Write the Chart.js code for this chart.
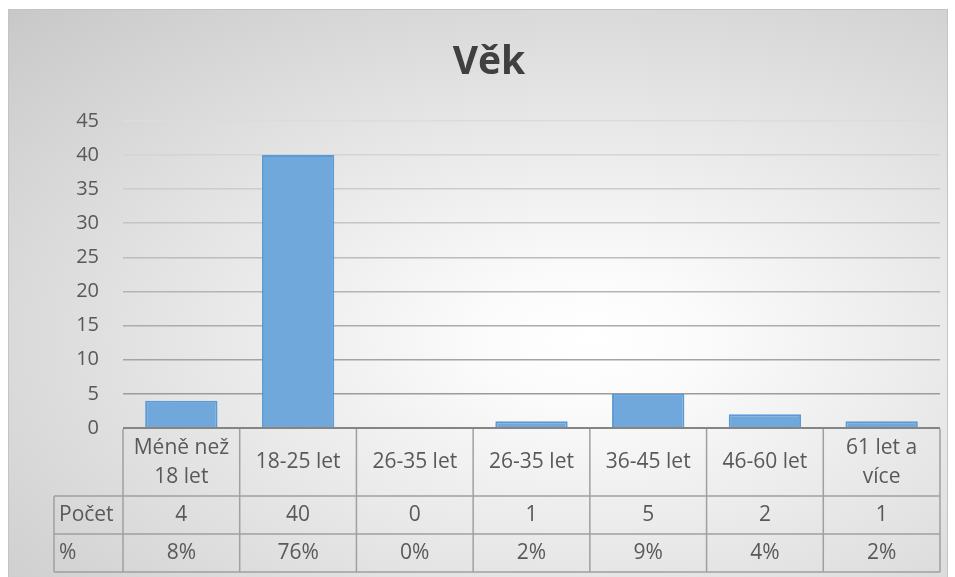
<!DOCTYPE html>
<html>
<head>
<meta charset="utf-8">
<script src="https://cdn.jsdelivr.net/npm/chart.js@4.4.1/dist/chart.umd.min.js"></script>
<style>
  html, body { margin: 0; padding: 0; background: #fff; }
  #frame {
    position: absolute; left: 8px; top: 9px; width: 940px; height: 570px;
    box-sizing: border-box; border: 1px solid #c4c4c4;
    background: radial-gradient(ellipse farthest-corner at 62% 58%, #ffffff 0%, #fbfbfb 14%, #c8c8c8 100%);
  }
  #wrap { position: absolute; left: 0; top: 0; width: 955px; height: 577px; }
</style>
</head>
<body>
<div id="frame"></div>
<div id="wrap"><canvas id="vekChart" width="955" height="577"></canvas></div>
<script>
// data
var categories = [['Méně než', '18 let'], '18-25 let', '26-35 let', '26-35 let', '36-45 let', '46-60 let', ['61 let a', 'více']];
var counts = [4, 40, 0, 1, 5, 2, 1];
var percents = ['8%', '76%', '0%', '2%', '9%', '4%', '2%'];
var rowNames = ['Počet', '%'];
var yTicks = [0, 5, 10, 15, 20, 25, 30, 35, 40, 45];

var fontFamily = '"Open Sans", "DejaVu Sans", sans-serif';
var textColor = '#595959';
var tableLine = '#a0a0a0';

// draws the data table under the plot, aligned to the category scale
var dataTable = {
    id: 'dataTable',
    afterDraw: function (chart) {
        var ctx = chart.ctx;
        var x = chart.scales.x;
        var area = chart.chartArea;
        var colW = (area.right - area.left) / categories.length;
        var top = area.bottom + 1;
        var headH = 67, rowH = 38;
        var labelLeft = 54;

        ctx.save();
        ctx.strokeStyle = tableLine;
        ctx.lineWidth = 1.5;
        ctx.beginPath();
        // vertical lines
        for (var i = 0; i <= categories.length; i++) {
            var vx = area.left + i * colW;
            ctx.moveTo(vx, top);
            ctx.lineTo(vx, top + headH + 2 * rowH);
        }
        ctx.moveTo(labelLeft, top + headH);
        ctx.lineTo(labelLeft, top + headH + 2 * rowH);
        // horizontal lines
        for (var r = 0; r <= 2; r++) {
            var hy = top + headH + r * rowH;
            ctx.moveTo(labelLeft, hy);
            ctx.lineTo(area.right, hy);
        }
        ctx.stroke();

        ctx.fillStyle = textColor;
        ctx.font = '21px ' + fontFamily;
        ctx.textBaseline = 'middle';
        ctx.textAlign = 'center';
        categories.forEach(function (cat, i) {
            var cx = x.getPixelForValue(i);
            var lines = Array.isArray(cat) ? cat : [cat];
            var midY = top + headH / 2;
            lines.forEach(function (ln, k) {
                var ly = midY + (k - (lines.length - 1) / 2) * 29;
                ctx.fillText(ln, cx, ly);
            });
            ctx.fillText(String(counts[i]), cx, top + headH + rowH / 2);
            ctx.fillText(percents[i], cx, top + headH + rowH * 1.5);
        });
        ctx.textAlign = 'left';
        ctx.fillText(rowNames[0], labelLeft + 5, top + headH + rowH / 2);
        ctx.fillText(rowNames[1], labelLeft + 5, top + headH + rowH * 1.5);
        ctx.restore();
    }
};

function gridColor(ctx) {
    var v = ctx.tick ? ctx.tick.value : 0;
    if (v === 0) return '#858585';
    var t = v / 45; // lighter towards the top
    var c = Math.round(148 + t * 72);
    return 'rgb(' + c + ',' + c + ',' + c + ')';
}

new Chart(document.getElementById('vekChart'), {
    type: 'bar',
    data: {
        labels: categories,
        datasets: [{
            label: 'Počet',
            data: counts,
            backgroundColor: '#71a8db',
            borderColor: '#5b9bd5',
            borderWidth: 2,
            barPercentage: 0.62,
            categoryPercentage: 1
        }]
    },
    options: {
        responsive: false,
        animation: false,
        layout: { padding: { top: 39, left: 38, right: 15, bottom: 149 } },
        plugins: {
            legend: { display: false },
            tooltip: { enabled: false },
            title: {
                display: true,
                text: 'Věk',
                color: '#404040',
                font: { family: fontFamily, size: 39, weight: 'bold', lineHeight: 1.2 },
                padding: { top: 0, bottom: 35 }
            }
        },
        scales: {
            x: { display: false },
            y: {
                min: 0,
                max: 45,
                afterBuildTicks: function (scale) {
                    scale.ticks = yTicks.map(function (v) { return { value: v }; });
                },
                afterFit: function (scale) { scale.width = 85; },
                border: { display: false },
                grid: {
                    color: gridColor,
                    lineWidth: function (ctx) { return ctx.tick && ctx.tick.value === 0 ? 2 : 1.5; },
                    drawTicks: false
                },
                ticks: {
                    padding: 24,
                    color: textColor,
                    font: { family: fontFamily, size: 20 }
                }
            }
        }
    },
    plugins: [dataTable]
});
</script>
</body>
</html>
